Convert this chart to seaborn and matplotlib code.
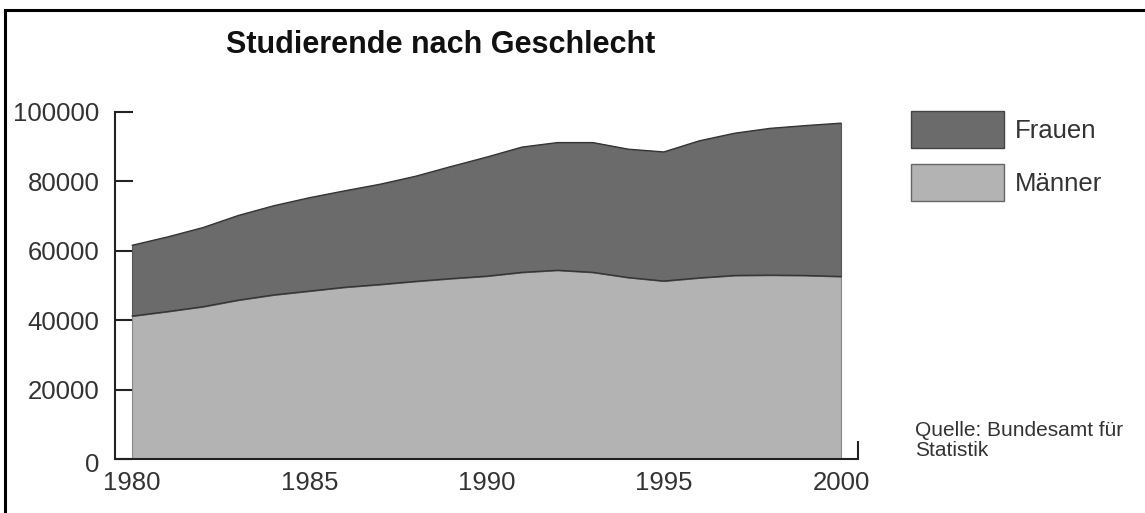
import numpy as np
import pandas as pd
import matplotlib
matplotlib.use("Agg")
import matplotlib.pyplot as plt
import seaborn as sns
from matplotlib.lines import Line2D
from matplotlib.patches import Patch
from matplotlib.transforms import ScaledTranslation

years = list(range(1980, 2001))
maenner = [41200, 42500, 43900, 45800, 47300, 48400, 49500, 50300, 51200, 52000,
           52700, 53800, 54400, 53800, 52300, 51300, 52200, 52900, 53000, 52900, 52600]
frauen = [20400, 21500, 22800, 24400, 25700, 26900, 27800, 28900, 30300, 32300,
          34300, 36100, 36800, 37400, 37000, 37200, 39500, 41000, 42300, 43200, 44200]
series_labels = ["Frauen", "Männer"]
x_ticks = [1980, 1985, 1990, 1995, 2000]
y_ticks = [0, 20000, 40000, 60000, 80000, 100000]
title = "Studierende nach Geschlecht"
source = "Quelle: Bundesamt für\nStatistik"

df = pd.DataFrame({"Jahr": years, "Männer": maenner, "Frauen": frauen})
df["Gesamt"] = df["Männer"] + df["Frauen"]

sns.set_style("white")
plt.rcParams["font.family"] = ["Liberation Sans", "DejaVu Sans"]

W, H = 1145, 513
fig = plt.figure(figsize=(W / 100, H / 100), dpi=100)
ax = fig.add_axes([115 / W, 1 - 459 / H, (858 - 115) / W, (459 - 112) / H])

c_fr = "#6b6b6b"
c_ma = "#b3b3b3"
edge = "#333333"

ax.fill_between(df["Jahr"], 0, df["Männer"], facecolor=c_ma, edgecolor="#888888", linewidth=0.8, zorder=1)
ax.fill_between(df["Jahr"], df["Männer"], df["Gesamt"], facecolor=c_fr, edgecolor="#555555", linewidth=0.8, zorder=1)
sns.lineplot(data=df, x="Jahr", y="Männer", ax=ax, color=edge, linewidth=0.9, zorder=2)
sns.lineplot(data=df, x="Jahr", y="Gesamt", ax=ax, color=edge, linewidth=0.9, zorder=2)

ax.set_xlim(1979.52, 2000.48)
ax.set_ylim(0, 100000)
ax.set_xlabel("")
ax.set_ylabel("")
ax.set_facecolor("white")

for s in ["top", "right"]:
    ax.spines[s].set_visible(False)
for s in ["left", "bottom"]:
    ax.spines[s].set_visible(True)
    ax.spines[s].set_linewidth(1.5)
    ax.spines[s].set_color("#222222")

ax.set_yticks(y_ticks)
ax.set_yticklabels([str(v) for v in y_ticks])
ax.tick_params(axis="y", direction="in", length=13, width=1.5, color="#222222",
               pad=11, labelsize=18.5, labelcolor="#333333", left=True)
ax.set_xticks(x_ticks)
ax.set_xticklabels([str(v) for v in x_ticks])
ax.tick_params(axis="x", which="major", length=0, pad=9, labelsize=18.5, labelcolor="#333333")
ax.set_xticks([2000.48], minor=True)
ax.tick_params(axis="x", which="minor", direction="in", length=13, width=1.5, color="#222222", bottom=True)

zero_lbl = ax.yaxis.get_major_ticks()[0].label1
zero_lbl.set_transform(zero_lbl.get_transform() + ScaledTranslation(0, -3 / 100, fig.dpi_scale_trans))

handles = [Patch(facecolor=c_fr, edgecolor="#444444", linewidth=1.0),
           Patch(facecolor=c_ma, edgecolor="#666666", linewidth=1.0)]
leg = fig.legend(handles, series_labels, loc="upper left",
                 bbox_to_anchor=(911 / W, 1 - 111 / H), frameon=False,
                 fontsize=18.5, handlelength=3.62, handleheight=1.84,
                 handletextpad=0.42, labelspacing=0.62, borderpad=0, borderaxespad=0)
for t in leg.get_texts():
    t.set_color("#333333")

fig.text(441 / W, 1 - 45 / H, title, ha="center", va="center", fontsize=22,
         fontweight="bold", color="#111111")
fig.text(915 / W, 1 - 421 / H, source, ha="left", va="top", fontsize=15,
         linespacing=1.08, color="#333333")

fig.add_artist(Line2D([5 / W, 5 / W], [0, 1 - 10 / H], transform=fig.transFigure,
                      color="black", linewidth=2.2, solid_capstyle="projecting"))
fig.add_artist(Line2D([5 / W, 1], [1 - 10 / H, 1 - 10 / H], transform=fig.transFigure,
                      color="black", linewidth=2.2, solid_capstyle="projecting"))

fig.savefig("out.png", dpi=100, facecolor="white")
